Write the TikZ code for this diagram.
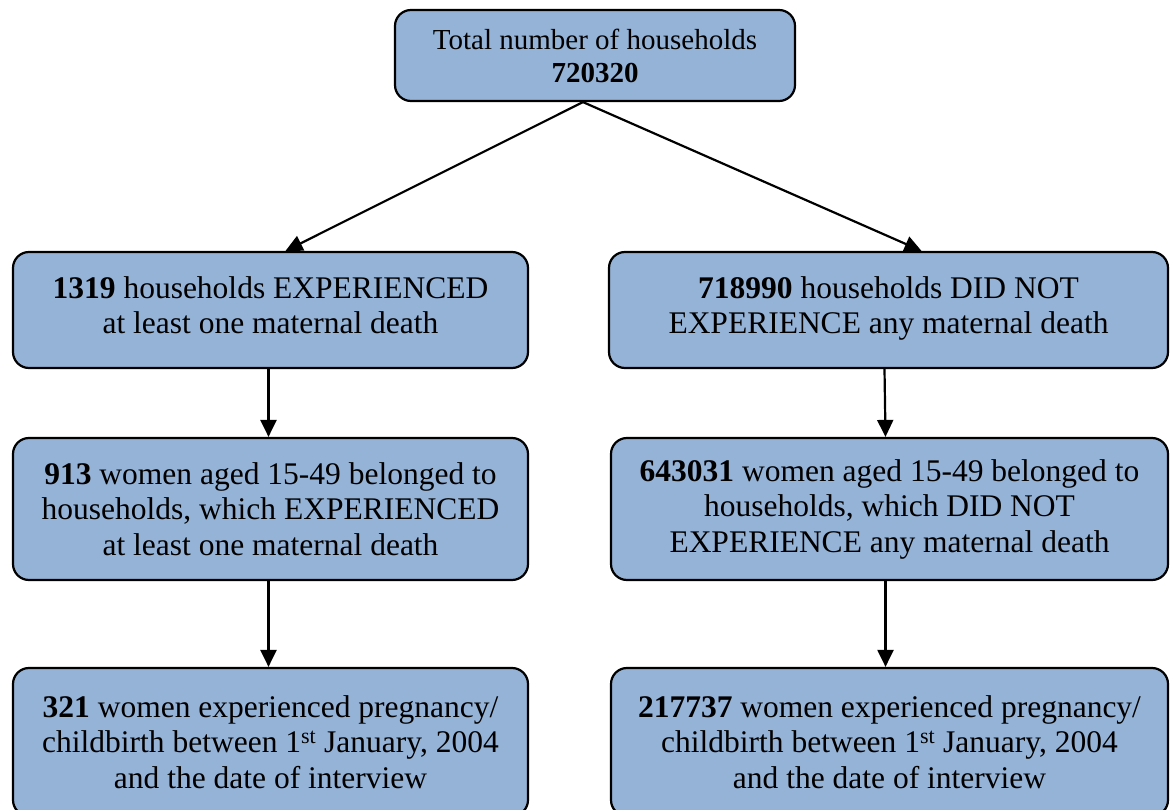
\documentclass[tikz,border=0pt]{standalone}
\usepackage{fontspec}
\setmainfont{Liberation Serif}
\usetikzlibrary{arrows.meta,calc}
\definecolor{boxblue}{HTML}{95B3D7}
\tikzset{
  box/.style={draw=black, line width=2.2pt, fill=boxblue, rounded corners=16pt,
    align=center, inner sep=0pt, font=\fontsize{31.5}{35.5}\selectfont},
  arr/.style={line width=2.2pt, -{Triangle[length=17pt,width=16pt]}}
}
\begin{document}
\begin{tikzpicture}[x=1pt,y=-1pt]
\useasboundingbox (0,0) rectangle (1170,810);
\node[box, minimum width=400pt, minimum height=91pt, font=\fontsize{29}{33}\selectfont] (top) at (595,55.5) {Total number of households\\\textbf{720320}};
\node[box, minimum width=515pt, minimum height=116pt] (l1) at (270.5,310) {\textbf{1319} households EXPERIENCED\\at least one maternal death\\[-25.5pt]};
\node[box, minimum width=559pt, minimum height=116pt] (r1) at (888.5,310) {\textbf{718990} households DID NOT\\EXPERIENCE any maternal death\\[-25.5pt]};
\node[box, minimum width=515pt, minimum height=142pt] (l2) at (270.5,509) {\textbf{913} women aged 15-49 belonged to\\households, which EXPERIENCED\\at least one maternal death};
\node[box, minimum width=557pt, minimum height=142pt] (r2) at (889.5,509) {\textbf{643031} women aged 15-49 belonged to\\households, which DID NOT\\EXPERIENCE any maternal death};
\node[box, minimum width=515pt, minimum height=148pt] (l3) at (270.5,742) {\textbf{321} women experienced pregnancy/\\childbirth between 1\textsuperscript{st} January, 2004\\and the date of interview};
\node[box, minimum width=557pt, minimum height=148pt] (r3) at (889.5,742) {\textbf{217737} women experienced pregnancy/\\childbirth between 1\textsuperscript{st} January, 2004\\and the date of interview};
\coordinate (ts) at ($(top.south)+(-12,0)$);
\draw[arr] (ts) -- ($(l1.north)+(15,0)$);
\draw[arr] (ts) -- ($(r1.north)+(33,0)$);
\draw[arr] ($(l1.south)+(-2,0)$) -- ($(l2.north)+(-2,0)$);
\draw[arr] ($(r1.south)+(-4,0)$) -- ($(r2.north)+(-4,0)$);
\draw[arr] ($(l2.south)+(-2,0)$) -- ($(l3.north)+(-2,0)$);
\draw[arr] ($(r2.south)+(-4,0)$) -- ($(r3.north)+(-4,0)$);
\end{tikzpicture}
\end{document}
